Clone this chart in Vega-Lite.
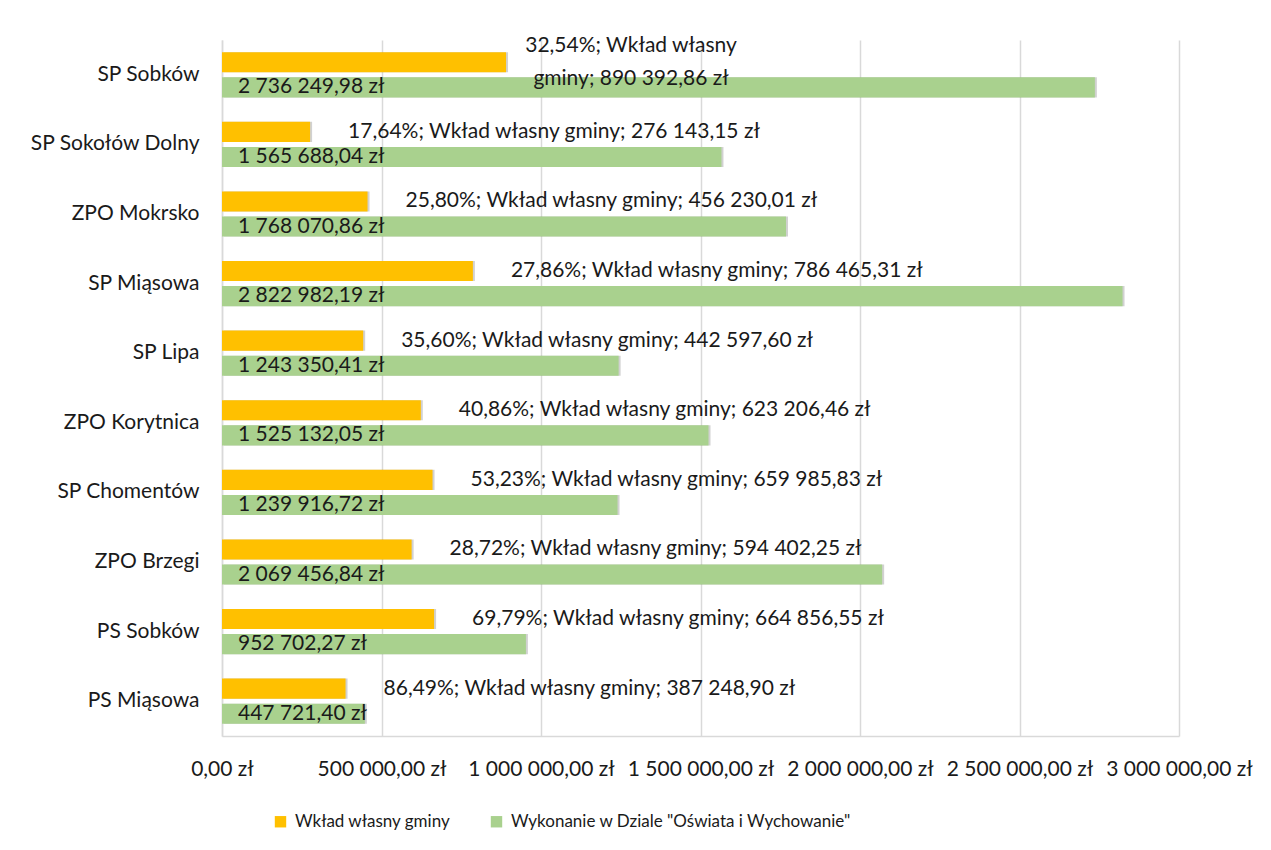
{
  "$schema": "https://vega.github.io/schema/vega-lite/v6.json",
  "width": 957,
  "height": 696,
  "autosize": {"type": "none"},
  "padding": {"left": 222, "top": 40, "right": 92, "bottom": 114},
  "background": "white",
  "config": {
    "locale": {"number": {"decimal": ",", "thousands": " ", "grouping": [3], "currency": ["", " zł"]}},
    "view": {"stroke": null},
    "font": "Lato"
  },
  "data": {
    "values": [
      {"school": "SP Sobków", "series": "Wkład własny gminy", "value": 890392.86, "label": "32,54%; Wkład własny\ngminy; 890 392,86 zł"},
      {"school": "SP Sobków", "series": "Wykonanie w Dziale \"Oświata i Wychowanie\"", "value": 2736249.98, "label": ""},
      {"school": "SP Sokołów Dolny", "series": "Wkład własny gminy", "value": 276143.15, "label": "17,64%; Wkład własny gminy; 276 143,15 zł"},
      {"school": "SP Sokołów Dolny", "series": "Wykonanie w Dziale \"Oświata i Wychowanie\"", "value": 1565688.04, "label": ""},
      {"school": "ZPO Mokrsko", "series": "Wkład własny gminy", "value": 456230.01, "label": "25,80%; Wkład własny gminy; 456 230,01 zł"},
      {"school": "ZPO Mokrsko", "series": "Wykonanie w Dziale \"Oświata i Wychowanie\"", "value": 1768070.86, "label": ""},
      {"school": "SP Miąsowa", "series": "Wkład własny gminy", "value": 786465.31, "label": "27,86%; Wkład własny gminy; 786 465,31 zł"},
      {"school": "SP Miąsowa", "series": "Wykonanie w Dziale \"Oświata i Wychowanie\"", "value": 2822982.19, "label": ""},
      {"school": "SP Lipa", "series": "Wkład własny gminy", "value": 442597.60, "label": "35,60%; Wkład własny gminy; 442 597,60 zł"},
      {"school": "SP Lipa", "series": "Wykonanie w Dziale \"Oświata i Wychowanie\"", "value": 1243350.41, "label": ""},
      {"school": "ZPO Korytnica", "series": "Wkład własny gminy", "value": 623206.46, "label": "40,86%; Wkład własny gminy; 623 206,46 zł"},
      {"school": "ZPO Korytnica", "series": "Wykonanie w Dziale \"Oświata i Wychowanie\"", "value": 1525132.05, "label": ""},
      {"school": "SP Chomentów", "series": "Wkład własny gminy", "value": 659985.83, "label": "53,23%; Wkład własny gminy; 659 985,83 zł"},
      {"school": "SP Chomentów", "series": "Wykonanie w Dziale \"Oświata i Wychowanie\"", "value": 1239916.72, "label": ""},
      {"school": "ZPO Brzegi", "series": "Wkład własny gminy", "value": 594402.25, "label": "28,72%; Wkład własny gminy; 594 402,25 zł"},
      {"school": "ZPO Brzegi", "series": "Wykonanie w Dziale \"Oświata i Wychowanie\"", "value": 2069456.84, "label": ""},
      {"school": "PS Sobków", "series": "Wkład własny gminy", "value": 664856.55, "label": "69,79%; Wkład własny gminy; 664 856,55 zł"},
      {"school": "PS Sobków", "series": "Wykonanie w Dziale \"Oświata i Wychowanie\"", "value": 952702.27, "label": ""},
      {"school": "PS Miąsowa", "series": "Wkład własny gminy", "value": 387248.90, "label": "86,49%; Wkład własny gminy; 387 248,90 zł"},
      {"school": "PS Miąsowa", "series": "Wykonanie w Dziale \"Oświata i Wychowanie\"", "value": 447721.40, "label": ""}
    ]
  },
  "encoding": {
    "y": {
      "field": "school",
      "type": "nominal",
      "sort": null,
      "scale": {"paddingInner": 0.35, "paddingOuter": 0.175},
      "axis": {"title": null, "domainColor": "#d9d9d9", "domainWidth": 1.5, "ticks": false, "labelFontSize": 21, "labelPadding": 23, "labelColor": "#1a1a1a", "labelLimit": 300}
    },
    "yOffset": {
      "field": "series",
      "type": "nominal",
      "sort": ["Wkład własny gminy", "Wykonanie w Dziale \"Oświata i Wychowanie\""],
      "scale": {"paddingInner": 0.2, "paddingOuter": 0}
    }
  },
  "layer": [
    {
      "mark": {"type": "bar", "color": "#000000", "opacity": 0.18, "xOffset": 2, "yOffset": 3},
      "encoding": {
        "x": {"field": "value", "type": "quantitative"}
      }
    },
    {
      "mark": {"type": "bar"},
      "encoding": {
        "x": {
          "field": "value",
          "type": "quantitative",
          "scale": {"domain": [0, 3000000], "nice": false},
          "axis": {"title": null, "values": [0, 500000, 1000000, 1500000, 2000000, 2500000, 3000000], "format": "$,.2f", "domainColor": "#d9d9d9", "domainWidth": 1.5, "ticks": false, "gridColor": "#d9d9d9", "gridWidth": 1.5, "labelFontSize": 21, "labelPadding": 22, "labelColor": "#1a1a1a", "labelFlush": false, "labelOverlap": false}
        },
        "color": {
          "field": "series",
          "type": "nominal",
          "scale": {"domain": ["Wkład własny gminy", "Wykonanie w Dziale \"Oświata i Wychowanie\""], "range": ["#FFC000", "#A9D18E"]},
          "legend": {"title": null, "orient": "none", "legendX": 50, "legendY": 773, "direction": "horizontal", "symbolType": "square", "symbolSize": 130, "symbolStrokeWidth": 0, "labelFontSize": 17, "labelColor": "#1a1a1a", "columnPadding": 37, "labelOffset": 6, "labelLimit": 400}
        }
      }
    },
    {
      "transform": [{"filter": {"field": "series", "equal": "Wykonanie w Dziale \"Oświata i Wychowanie\""}}],
      "mark": {"type": "text", "align": "left", "baseline": "middle", "dx": 16, "fontSize": 21, "color": "#1a1a1a"},
      "encoding": {
        "x": {"datum": 0, "type": "quantitative"},
        "text": {"field": "value", "type": "quantitative", "format": "$,.2f"}
      }
    },
    {
      "transform": [{"filter": {"field": "series", "equal": "Wkład własny gminy"}}, {"filter": {"not": {"field": "school", "equal": "SP Sobków"}}}],
      "mark": {"type": "text", "align": "left", "baseline": "middle", "dx": 38, "fontSize": 21, "color": "#1a1a1a"},
      "encoding": {
        "x": {"field": "value", "type": "quantitative"},
        "text": {"field": "label", "type": "nominal"}
      }
    },
    {
      "transform": [{"filter": {"field": "series", "equal": "Wkład własny gminy"}}, {"filter": {"field": "school", "equal": "SP Sobków"}}],
      "mark": {"type": "text", "align": "center", "baseline": "middle", "dx": 125, "dy": -16, "fontSize": 21, "color": "#1a1a1a", "lineBreak": "\n", "lineHeight": 33},
      "encoding": {
        "x": {"field": "value", "type": "quantitative"},
        "text": {"field": "label", "type": "nominal"}
      }
    }
  ]
}
